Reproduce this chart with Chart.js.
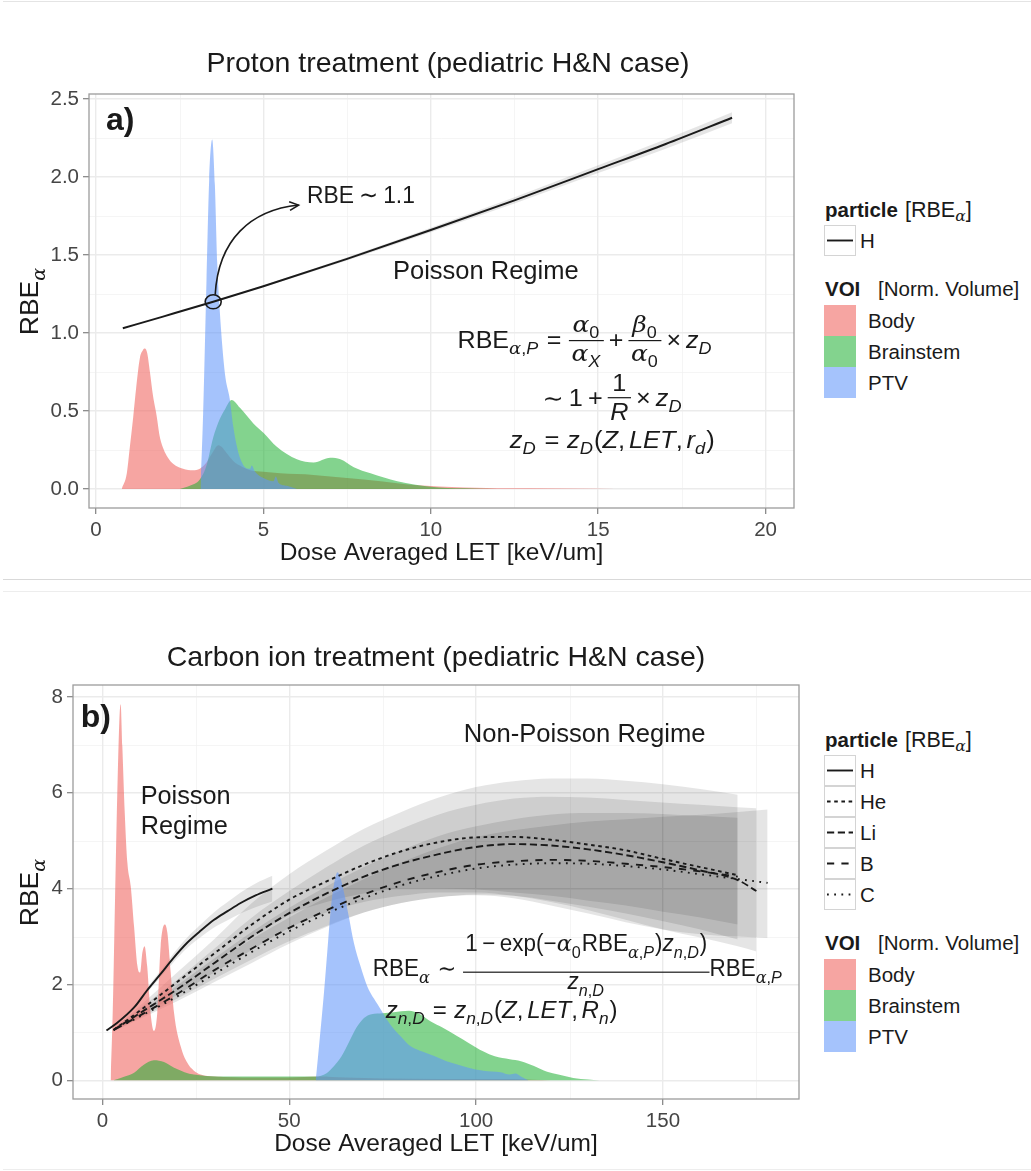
<!DOCTYPE html>
<html>
<head>
<meta charset="utf-8">
<script src="https://cdn.jsdelivr.net/npm/chart.js@4.4.1/dist/chart.umd.min.js"></script>
<style>
  html, body { margin: 0; padding: 0; background: #fff; }
  #page { position: relative; width: 1031px; height: 1171px; overflow: hidden; background: #fff;
          font-family: "Liberation Sans", Arial, Helvetica, sans-serif; }
  #page canvas { position: absolute; left: 0; }
  .rule { position: absolute; left: 3px; right: 0; height: 0; border-top: 1px solid #e4e4e4; }
  .lg { position: absolute; color: #1a1a1a; white-space: nowrap; line-height: normal; }
  .key { position: absolute; box-sizing: border-box; border: 1px solid #d4d4d4; background: #fff; }
  .sw { position: absolute; }
  .gk { font-family: "DejaVu Serif", "Liberation Serif", serif; font-style: italic; }
  .sb { position: relative; top: 0.32em; font-size: 0.72em; }
</style>
</head>
<body>
<div id="page">
  <div class="rule" style="top:1px"></div>
  <div class="rule" style="top:579px;border-color:#d9d9d9"></div>
  <div class="rule" style="top:591px;border-color:#ededed"></div>
  <div class="rule" style="top:1169px;border-color:#ededed"></div>
  <canvas id="chartA" width="800" height="578" style="top:0"></canvas>
  <canvas id="chartB" width="805" height="575" style="top:591px"></canvas>
</div>
<script>
// ---------------- Panel a: proton treatment ----------------
const protonLET      = [0.8, 2, 3.5, 5, 7.5, 10, 12.5, 15, 17, 19];
const protonRBE      = [1.03, 1.105, 1.2, 1.3, 1.475, 1.66, 1.85, 2.05, 2.21, 2.38];
const protonRBELow   = [1.028, 1.102, 1.196, 1.294, 1.465, 1.645, 1.83, 2.025, 2.18, 2.345];
const protonRBEHigh  = [1.032, 1.108, 1.204, 1.306, 1.485, 1.675, 1.87, 2.075, 2.24, 2.415];

const bodyLET_a = [0.77, 0.92, 1.0, 1.11, 1.2, 1.31, 1.4, 1.46, 1.53, 1.61, 1.7, 1.81, 1.9, 2.01, 2.15, 2.31,
                   2.6, 2.9, 3.1, 3.3, 3.5, 3.65, 3.75, 3.9, 4.1, 4.3, 4.6, 5.0, 5.5, 6.5, 7.5, 8.5, 9.5, 11, 13, 15, 16];
const bodyVol_a = [0, 0.1, 0.25, 0.46, 0.65, 0.84, 0.89, 0.9, 0.87, 0.75, 0.6, 0.47, 0.34, 0.26, 0.2, 0.16,
                   0.13, 0.12, 0.13, 0.17, 0.24, 0.28, 0.27, 0.23, 0.18, 0.15, 0.12, 0.11, 0.1, 0.09, 0.07, 0.05, 0.025, 0.01, 0.004, 0.002, 0];
const brainLET_a = [2.5, 2.8, 3.1, 3.3, 3.5, 3.7, 3.85, 4.05, 4.3, 4.7, 5.0, 5.4, 6.0, 6.5, 7.0, 7.3, 7.7, 8.2, 9.0, 10.0, 11.0, 12.0];
const brainVol_a = [0, 0.02, 0.06, 0.15, 0.33, 0.45, 0.51, 0.57, 0.52, 0.42, 0.36, 0.27, 0.19, 0.17, 0.2, 0.19, 0.14, 0.1, 0.05, 0.015, 0.004, 0];
const ptvLET_a = [3.12, 3.2, 3.3, 3.38, 3.47, 3.55, 3.62, 3.7, 3.85, 4.0, 4.1, 4.2, 4.3, 4.45, 4.6, 4.65, 4.75, 5.0, 5.3, 5.37, 5.45, 5.7, 6.0];
const ptvVol_a = [0, 0.49, 1.34, 1.98, 2.24, 1.95, 1.45, 1.13, 0.74, 0.57, 0.4, 0.28, 0.2, 0.14, 0.13, 0.15, 0.11, 0.07, 0.05, 0.08, 0.04, 0.02, 0];

const xTicks_a = [0, 5, 10, 15, 20];
const xTickLabels_a = ['0', '5', '10', '15', '20'];
const yTicks_a = [0, 0.5, 1, 1.5, 2, 2.5];
const yTickLabels_a = ['0.0', '0.5', '1.0', '1.5', '2.0', '2.5'];

// ---------------- Panel b: carbon ion treatment ----------------
const hLET_b     = [1.1, 4, 8.5, 12, 15.6, 19, 22.7, 26, 29.9, 33.5, 37, 41, 45.5];
const hRBE_b     = [1.04, 1.2, 1.52, 1.88, 2.22, 2.55, 2.87, 3.1, 3.35, 3.53, 3.7, 3.86, 4.0];
const hRBELow_b  = [1.03, 1.18, 1.49, 1.83, 2.15, 2.46, 2.76, 2.97, 3.19, 3.34, 3.48, 3.61, 3.73];
const hRBEHigh_b = [1.05, 1.22, 1.55, 1.93, 2.29, 2.64, 2.98, 3.23, 3.51, 3.72, 3.92, 4.11, 4.27];

const heLET = [3, 10, 20, 30, 40, 50, 60, 70, 80, 90, 100, 110, 120, 130, 140, 150, 160, 170];
const heRBE     = [1.05, 1.45, 2.05, 2.65, 3.25, 3.77, 4.15, 4.5, 4.78, 4.97, 5.07, 5.08, 5.02, 4.92, 4.8, 4.62, 4.45, 4.28];
const heRBELow  = [1.02, 1.38, 1.92, 2.45, 2.98, 3.45, 3.72, 3.9, 4.0, 4.0, 3.98, 3.92, 3.85, 3.75, 3.65, 3.52, 3.4, 3.25];
const heRBEHigh = [1.08, 1.55, 2.25, 2.95, 3.7, 4.3, 4.8, 5.25, 5.6, 5.9, 6.12, 6.24, 6.3, 6.3, 6.25, 6.18, 6.08, 5.96];

const liLET = [3, 10, 20, 30, 40, 50, 60, 70, 80, 90, 100, 110, 120, 130, 140, 150, 160, 170, 175];
const liRBE     = [1.05, 1.4, 1.9, 2.45, 3.0, 3.49, 3.9, 4.25, 4.52, 4.72, 4.87, 4.93, 4.9, 4.82, 4.7, 4.55, 4.38, 4.18, 3.95];
const liRBELow  = [1.02, 1.33, 1.78, 2.25, 2.72, 3.18, 3.5, 3.72, 3.85, 3.92, 3.92, 3.85, 3.72, 3.55, 3.35, 3.15, 2.98, 2.8, 2.69];
const liRBEHigh = [1.08, 1.5, 2.1, 2.75, 3.4, 3.95, 4.45, 4.9, 5.25, 5.55, 5.75, 5.88, 5.92, 5.9, 5.85, 5.8, 5.75, 5.7, 5.68];

const bLET = [3, 10, 20, 30, 40, 50, 60, 70, 80, 90, 100, 110, 120, 130, 140, 150, 160, 170];
const bRBE     = [1.05, 1.35, 1.8, 2.3, 2.75, 3.18, 3.55, 3.88, 4.15, 4.35, 4.5, 4.57, 4.6, 4.58, 4.52, 4.45, 4.36, 4.25];
const bRBELow  = [1.02, 1.3, 1.7, 2.12, 2.52, 2.9, 3.22, 3.5, 3.7, 3.82, 3.88, 3.85, 3.75, 3.62, 3.48, 3.32, 3.15, 2.94];
const bRBEHigh = [1.08, 1.42, 1.98, 2.55, 3.1, 3.6, 4.05, 4.45, 4.8, 5.1, 5.3, 5.45, 5.55, 5.58, 5.58, 5.56, 5.52, 5.48];

const cLET = [3, 10, 20, 30, 40, 50, 60, 70, 80, 90, 100, 110, 120, 130, 140, 150, 160, 170, 178];
const cRBE     = [1.05, 1.33, 1.75, 2.22, 2.68, 3.11, 3.48, 3.8, 4.07, 4.27, 4.42, 4.5, 4.53, 4.52, 4.47, 4.4, 4.3, 4.2, 4.12];
const cRBELow  = [1.02, 1.28, 1.65, 2.05, 2.45, 2.85, 3.2, 3.5, 3.7, 3.82, 3.86, 3.8, 3.65, 3.48, 3.3, 3.15, 3.05, 3.0, 2.97];
const cRBEHigh = [1.08, 1.4, 1.92, 2.45, 2.95, 3.4, 3.82, 4.2, 4.55, 4.85, 5.08, 5.22, 5.32, 5.4, 5.45, 5.5, 5.54, 5.6, 5.65];

const bodyLET_b = [2.2, 2.8, 3.4, 4.0, 4.6, 4.9, 5.35, 6.0, 6.7, 7.6, 8.5, 9.4, 10.1, 10.7, 11.3, 12.0, 12.9, 13.8, 14.7, 15.6,
                   16.7, 17.4, 18.3, 19.2, 21.0, 22.7, 24.5, 26.3, 30, 40, 50, 58, 65, 75, 90, 110, 115, 120];
const bodyVol_b = [0, 1.5, 3.8, 6.0, 7.6, 7.85, 6.97, 5.58, 4.54, 4.05, 3.2, 2.38, 2.25, 2.66, 2.8, 2.38, 1.41, 1.03, 1.41, 2.8,
                   3.25, 3.08, 2.25, 1.4, 0.7, 0.37, 0.2, 0.12, 0.08, 0.06, 0.06, 0.08, 0.06, 0.04, 0.03, 0.025, 0.01, 0];
const brainLET_b = [3, 6, 8.5, 11, 13.8, 16.5, 19.2, 22, 24.5, 30.9, 40, 50, 57, 60, 62, 64, 66, 68, 70, 72, 75, 78, 82,
                    85, 88, 91, 95, 98, 102, 105, 109, 112, 115.5, 119, 122, 126, 130, 133];
const brainVol_b = [0, 0.08, 0.16, 0.32, 0.42, 0.38, 0.26, 0.17, 0.12, 0.08, 0.08, 0.08, 0.08, 0.15, 0.3, 0.5, 0.8, 1.1, 1.3, 1.38, 1.4, 1.42, 1.45,
                    1.38, 1.22, 1.1, 0.92, 0.78, 0.6, 0.5, 0.44, 0.4, 0.3, 0.18, 0.12, 0.05, 0.015, 0];
const ptvLET_b = [57.1, 58.2, 59.3, 60.2, 61.1, 62, 62.9, 63.8, 64.7, 66, 67.3, 69, 70.9, 72.7, 74.5, 76.3, 78.1, 80.3, 82.5,
                  85.6, 88.8, 93.2, 97.7, 102, 106.6, 109, 110.5, 112, 114];
const ptvVol_b = [0, 0.9, 1.83, 2.7, 3.56, 4.1, 4.34, 4.2, 3.91, 3.4, 2.87, 2.4, 1.96, 1.7, 1.48, 1.25, 1.06, 0.88, 0.71,
                  0.6, 0.51, 0.37, 0.27, 0.2, 0.17, 0.12, 0.14, 0.08, 0];

const xTicks_b = [0, 50, 100, 150];
const xTickLabels_b = ['0', '50', '100', '150'];
const yTicks_b = [0, 2, 4, 6, 8];
const yTickLabels_b = ['0', '2', '4', '6', '8'];

const particles_a = ['H'];
const particles_b = ['H', 'He', 'Li', 'B', 'C'];
const vois = ['Body', 'Brainstem', 'PTV'];

// ---------------- styles ----------------
const SANS = '"Liberation Sans", Arial, Helvetica, "DejaVu Sans", sans-serif';
const GREEK = '"DejaVu Serif", "Liberation Serif", serif';
const INK = '#1a1a1a';
const VOI_FILL = { Body: 'rgba(240,110,105,0.62)', Brainstem: 'rgba(30,175,50,0.55)', PTV: 'rgba(97,150,250,0.57)' };
const DASH = { H: [], He: [3.6, 3.6], Li: [7.2, 3.6], B: [7.2, 7.2], C: [1.8, 5.4] };
const RIBBON = 'rgba(0,0,0,0.1)';
const GRID_MAJOR = '#ebebeb', GRID_MINOR = '#f2f2f2', TICK = '#808080', FRAME = '#9c9c9c';

const pts = (xs, ys) => xs.map((x, i) => ({ x, y: ys[i] }));

function lineDS(xs, ys, dash, width, order) {
  return { data: pts(xs, ys), borderColor: INK, borderWidth: width, borderDash: dash, pointRadius: 0,
           fill: false, cubicInterpolationMode: 'monotone', order };
}
function areaDS(xs, ys, color, order) {
  return { data: pts(xs, ys), borderColor: 'rgba(0,0,0,0)', borderWidth: 0, backgroundColor: color,
           pointRadius: 0, fill: 'origin', cubicInterpolationMode: 'monotone', order };
}
function addRibbon(list, xs, lo, hi, order) {
  const idx = list.length;
  list.push({ data: pts(xs, lo), borderColor: 'rgba(0,0,0,0)', borderWidth: 0, pointRadius: 0,
              fill: false, cubicInterpolationMode: 'monotone', order });
  list.push({ data: pts(xs, hi), borderColor: 'rgba(0,0,0,0)', borderWidth: 0, pointRadius: 0,
              backgroundColor: RIBBON, fill: idx, cubicInterpolationMode: 'monotone', order });
}

// ---------------- math-ish text typesetting on canvas ----------------
const al = { g: 'α' }, be = { g: 'β' };
const it = t => ({ i: t });
const sub = (...n) => ({ s: n });
const sp = k => ({ sp: k });
const frac = (f, d, o) => Object.assign({ f, d }, o || {});

function typeset(ctx, nodes, x, y, S, draw) {
  let cx = x;
  for (const n of nodes) {
    if (typeof n === 'string' || n.i !== undefined || n.g !== undefined) {
      const txt = typeof n === 'string' ? n : (n.i !== undefined ? n.i : n.g);
      if (typeof n === 'string') ctx.font = `${S}px ${SANS}`;
      else if (n.i !== undefined) ctx.font = `italic ${S}px ${SANS}`;
      else ctx.font = `italic ${S}px ${GREEK}`;
      if (draw) ctx.fillText(txt, cx, y);
      cx += ctx.measureText(txt).width;
    } else if (n.s) {
      cx += typeset(ctx, n.s, cx, y + S * 0.28, S * 0.72, draw) + S * 0.04;
    } else if (n.sp !== undefined) {
      cx += n.sp * S;
    } else if (n.f) {
      const wn = typeset(ctx, n.f, 0, 0, S, false);
      const wd = typeset(ctx, n.d, 0, 0, S, false);
      const w = Math.max(wn, wd) + 0.2 * S;
      const bar = y - (n.ax !== undefined ? n.ax : 0.32) * S;
      if (draw) {
        ctx.fillRect(cx, bar - 0.6, w, 1.2);
        typeset(ctx, n.f, cx + (w - wn) / 2, bar - (n.nb !== undefined ? n.nb : 0.38) * S, S, true);
        typeset(ctx, n.d, cx + (w - wd) / 2, bar + (n.db !== undefined ? n.db : 0.85) * S, S, true);
      }
      cx += w;
    }
  }
  return cx - x;
}
function drawMath(ctx, nodes, x, y, S, targetW) {
  ctx.save();
  ctx.fillStyle = INK; ctx.textAlign = 'left'; ctx.textBaseline = 'alphabetic';
  const w = typeset(ctx, nodes, 0, 0, S, false);
  const k = targetW ? targetW / w : 1;
  ctx.translate(x, y); ctx.scale(k, 1);
  typeset(ctx, nodes, 0, 0, S, true);
  ctx.restore();
}
function drawPlain(ctx, str, x, y, font, align) {
  ctx.save();
  ctx.fillStyle = INK; ctx.font = font; ctx.textAlign = align || 'left'; ctx.textBaseline = 'alphabetic';
  ctx.fillText(str, x, y);
  ctx.restore();
}

// ---------------- panel furniture (minor grid, frame, titles) ----------------
function minorValues(ticks, min, max) {
  const step = ticks[1] - ticks[0];
  const out = [ticks[0] - step / 2];
  for (let i = 0; i < ticks.length; i++) out.push(ticks[i] + step / 2);
  return out.filter(v => v > min && v < max);
}
function panelPlugin(spec) {
  return {
    id: 'panelFurniture',
    beforeDraw(chart) {
      const { ctx, chartArea: ca, scales } = chart;
      ctx.save();
      ctx.strokeStyle = GRID_MINOR; ctx.lineWidth = 0.8;
      ctx.beginPath();
      for (const v of minorValues(spec.xTicks, scales.x.min, scales.x.max)) {
        const p = Math.round(scales.x.getPixelForValue(v)) + 0.5;
        ctx.moveTo(p, ca.top); ctx.lineTo(p, ca.bottom);
      }
      for (const v of minorValues(spec.yTicks, scales.y.min, scales.y.max)) {
        const p = Math.round(scales.y.getPixelForValue(v)) + 0.5;
        ctx.moveTo(ca.left, p); ctx.lineTo(ca.right, p);
      }
      ctx.stroke();
      ctx.restore();
    },
    afterDatasetsDraw(chart) {
      const { ctx, chartArea: ca } = chart;
      ctx.save();
      ctx.strokeStyle = FRAME; ctx.lineWidth = 1.3;
      ctx.strokeRect(ca.left, ca.top, ca.right - ca.left, ca.bottom - ca.top);
      ctx.restore();
    },
    afterDraw(chart) {
      const { ctx, chartArea: ca } = chart;
      drawPlain(ctx, spec.title, spec.titleX, spec.titleY, `28.5px ${SANS}`, 'center');
      drawPlain(ctx, 'Dose Averaged LET [keV/um]', (ca.left + ca.right) / 2, 560, `24.5px ${SANS}`, 'center');
      // rotated y axis title
      ctx.save();
      ctx.translate(38, (ca.top + ca.bottom) / 2);
      ctx.rotate(-Math.PI / 2);
      ctx.fillStyle = INK;
      const yt = ['RBE', sub(al)];
      const w = typeset(ctx, yt, 0, 0, 26.5, false);
      typeset(ctx, yt, -w / 2, 0, 26.5, true);
      ctx.restore();
      spec.annotate(chart);
    }
  };
}

function axisOptions(ticks, labels, min, max, fitSize, isX) {
  return {
    type: 'linear', min, max,
    afterBuildTicks: axis => { axis.ticks = ticks.map(v => ({ value: v })); },
    afterFit: axis => { if (isX) axis.height = fitSize; else axis.width = fitSize; },
    grid: { color: GRID_MAJOR, lineWidth: 1.4, drawTicks: true, tickLength: 6, tickColor: TICK, tickWidth: 1.2 },
    border: { display: false },
    ticks: { autoSkip: false, maxRotation: 0, padding: isX ? 4 : 4, color: '#454545',
             font: { family: SANS, size: 20.5 }, callback: (v, i) => labels[i] }
  };
}
function baseOptions(padTop, padRight, xs, ys) {
  return {
    responsive: false, animation: false, devicePixelRatio: 1, events: [],
    layout: { padding: { top: padTop, right: padRight, bottom: 0, left: 0 } },
    plugins: { legend: { display: false }, tooltip: { enabled: false }, title: { display: false } },
    scales: { x: xs, y: ys }
  };
}

// ---------------- chart a ----------------
const dsA = [];
addRibbon(dsA, protonLET, protonRBELow, protonRBEHigh, 9);
dsA.push(areaDS(bodyLET_a, bodyVol_a, VOI_FILL.Body, 4));
dsA.push(areaDS(brainLET_a, brainVol_a, VOI_FILL.Brainstem, 3));
dsA.push(areaDS(ptvLET_a, ptvVol_a, VOI_FILL.PTV, 2));
dsA.push(lineDS(protonLET, protonRBE, DASH.H, 2, 0));

const F1a = ['RBE', sub(al, ',', it('P')), sp(.3), '=', sp(.3),
             frac([al, sub('0')], [al, sub(it('X'))], { nb: .38, db: .88 }), sp(.2), '+', sp(.2),
             frac([be, sub('0')], [al, sub('0')], { nb: .38, db: .88 }), sp(.2), '×', sp(.2), it('z'), sub(it('D'))];
const F2a = ['∼', sp(.2), '1', sp(.2), '+', sp(.2), frac(['1'], [it('R')], { ax: .36, nb: .28, db: .95 }),
             sp(.2), '×', sp(.2), it('z'), sub(it('D'))];
const F3a = [it('z'), sub(it('D')), sp(.3), '=', sp(.3), it('z'), sub(it('D')), '(', it('Z'), ',', sp(.15),
             it('LET'), ',', sp(.15), it('r'), sub(it('d')), ')'];

new Chart(document.getElementById('chartA'), {
  type: 'line',
  data: { datasets: dsA },
  options: baseOptions(94, 6,
    axisOptions(xTicks_a, xTickLabels_a, -0.21, 20.85, 70, true),
    axisOptions(yTicks_a, yTickLabels_a, -0.122, 2.532, 89, false)),
  plugins: [panelPlugin({
    title: 'Proton treatment (pediatric H&N case)', titleX: 448, titleY: 72,
    xTicks: xTicks_a, yTicks: yTicks_a,
    annotate(chart) {
      const { ctx, scales } = chart;
      const X = v => scales.x.getPixelForValue(v), Y = v => scales.y.getPixelForValue(v);
      drawPlain(ctx, 'a)', X(0.3), Y(2.3), `bold 32px ${SANS}`);
      drawPlain(ctx, 'Poisson Regime', X(8.87), Y(1.346), `25.5px ${SANS}`);
      drawMath(ctx, ['RBE', sp(.22), '∼', sp(.22), '1.1'], X(6.3), Y(1.833), 24, 108);
      drawMath(ctx, F1a, X(10.8), Y(0.904), 23, 255);
      drawMath(ctx, F2a, X(13.34), Y(0.532), 23, 140);
      drawMath(ctx, F3a, X(12.36), Y(0.263), 23, 205);
      // circled point on the proton curve and the arrow to its label
      const cx = X(protonLET[2]), cy = Y(protonRBE[2]);
      ctx.save();
      ctx.strokeStyle = INK; ctx.lineWidth = 1.6;
      ctx.beginPath(); ctx.ellipse(cx, cy, 8, 7, 0, 0, Math.PI * 2); ctx.stroke();
      const sx = cx + 2, sy = cy - 7, ex = X(6.05), ey = Y(1.82);
      const c2x = ex - 48, c2y = ey + 5;
      ctx.beginPath(); ctx.moveTo(sx, sy);
      ctx.bezierCurveTo(sx + 3, sy - 55, c2x, c2y, ex, ey); ctx.stroke();
      const ang = Math.atan2(ey - c2y, ex - c2x);
      ctx.beginPath();
      ctx.moveTo(ex - 10 * Math.cos(ang - 0.45), ey - 10 * Math.sin(ang - 0.45));
      ctx.lineTo(ex, ey);
      ctx.lineTo(ex - 10 * Math.cos(ang + 0.45), ey - 10 * Math.sin(ang + 0.45));
      ctx.stroke();
      ctx.restore();
    }
  })]
});

// ---------------- chart b ----------------
const dsB = [];
addRibbon(dsB, heLET, heRBELow, heRBEHigh, 9);
addRibbon(dsB, liLET, liRBELow, liRBEHigh, 9);
addRibbon(dsB, bLET, bRBELow, bRBEHigh, 9);
addRibbon(dsB, cLET, cRBELow, cRBEHigh, 9);
addRibbon(dsB, hLET_b, hRBELow_b, hRBEHigh_b, 9);
dsB.push(areaDS(bodyLET_b, bodyVol_b, VOI_FILL.Body, 4));
dsB.push(areaDS(brainLET_b, brainVol_b, VOI_FILL.Brainstem, 3));
dsB.push(areaDS(ptvLET_b, ptvVol_b, VOI_FILL.PTV, 2));
dsB.push(lineDS(hLET_b, hRBE_b, DASH.H, 1.9, 0));
dsB.push(lineDS(heLET, heRBE, DASH.He, 1.9, 0));
dsB.push(lineDS(liLET, liRBE, DASH.Li, 1.9, 0));
dsB.push(lineDS(bLET, bRBE, DASH.B, 1.9, 0));
dsB.push(lineDS(cLET, cRBE, DASH.C, 1.9, 0));

const zn = () => [it('z'), sub(it('n'), ',', it('D'))];
const F1b = ['RBE', sub(al), sp(.3), '∼', sp(.3),
             frac(['1', sp(.2), '−', sp(.2), 'exp(−', al, sub('0'), 'RBE', sub(al, ',', it('P')), ')', ...zn(), ')'],
                  zn(), { ax: .18, nb: .9, db: .74 }),
             'RBE', sub(al, ',', it('P'))];
const F2b = [...zn(), sp(.3), '=', sp(.3), ...zn(), '(', it('Z'), ',', sp(.15), it('LET'), ',', sp(.15),
             it('R'), sub(it('n')), ')'];

new Chart(document.getElementById('chartB'), {
  type: 'line',
  data: { datasets: dsB },
  options: baseOptions(94, 6,
    axisOptions(xTicks_b, xTickLabels_b, -7.85, 186.4, 67, true),
    axisOptions(yTicks_b, yTickLabels_b, -0.39, 8.25, 73, false)),
  plugins: [panelPlugin({
    title: 'Carbon ion treatment (pediatric H&N case)', titleX: 436, titleY: 75,
    xTicks: xTicks_b, yTicks: yTicks_b,
    annotate(chart) {
      const { ctx, scales } = chart;
      const X = v => scales.x.getPixelForValue(v), Y = v => scales.y.getPixelForValue(v);
      drawPlain(ctx, 'b)', X(-5.8), Y(7.375), `bold 32px ${SANS}`);
      drawPlain(ctx, 'Poisson', X(10.25), Y(5.77), `25.3px ${SANS}`);
      drawPlain(ctx, 'Regime', X(10.25), Y(5.15), `25.3px ${SANS}`);
      drawPlain(ctx, 'Non-Poisson Regime', X(96.7), Y(7.06), `25.6px ${SANS}`);
      drawMath(ctx, F1b, X(72.35), Y(2.17), 23, 410);
      drawMath(ctx, F2b, X(75.8), Y(1.31), 23, 232);
    }
  })]
});

// ---------------- legends ----------------
const page = document.getElementById('page');
function el(cls, css, html) {
  const d = document.createElement('div');
  d.className = cls; d.style.cssText = css; if (html !== undefined) d.innerHTML = html;
  page.appendChild(d); return d;
}
function buildLegend(baseline, particles) {
  const L = 824, KW = 32, KH = 31, FS = 20.5;
  const top = b => (b - 0.905 * FS).toFixed(1);
  el('lg', `left:${L + 1}px;top:${top(baseline)}px;font-size:${FS}px;font-weight:bold`, 'particle');
  el('lg', `left:905px;top:${(baseline - 0.905 * 21.5).toFixed(1)}px;font-size:21.5px`,
     '[RBE<span class="sb gk">α</span>]');
  let y = baseline + 8;
  for (const p of particles) {
    const k = el('key', `left:${L}px;top:${y}px;width:${KW}px;height:${KH}px`);
    const dash = DASH[p].length ? `stroke-dasharray="${DASH[p].join(' ')}"` : '';
    k.innerHTML = `<svg width="30" height="29" style="position:absolute;left:0;top:0">` +
      `<line x1="2" y1="14.5" x2="28" y2="14.5" stroke="${INK}" stroke-width="1.9" ${dash}/></svg>`;
    el('lg', `left:860px;top:${(y + KH / 2 - 0.547 * FS).toFixed(1)}px;font-size:${FS}px`, p);
    y += KH;
  }
  const vb = y + 40;
  el('lg', `left:${L + 1}px;top:${top(vb)}px;font-size:${FS}px;font-weight:bold`, 'VOI');
  el('lg', `left:878px;top:${top(vb)}px;font-size:${FS}px`, '[Norm. Volume]');
  let sy = vb + 9;
  for (const v of vois) {
    el('sw', `left:${L}px;top:${sy}px;width:${KW}px;height:${KH}px;background:${VOI_FILL[v]}`);
    el('lg', `left:868px;top:${(sy + KH / 2 - 0.547 * FS).toFixed(1)}px;font-size:${FS}px`, v);
    sy += KH;
  }
}
buildLegend(217, particles_a);
buildLegend(747, particles_b);
</script>
</body>
</html>
